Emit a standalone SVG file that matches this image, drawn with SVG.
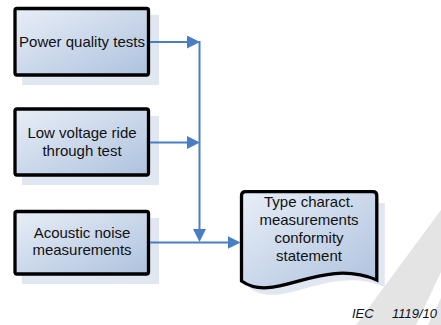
<svg xmlns="http://www.w3.org/2000/svg" width="441" height="325" viewBox="0 0 441 325">
  <style>
    .box { fill: url(#fillGrad); stroke: #000; stroke-width: 3.3; }
    .shadow { fill: #e1e7f1; stroke: none; }
    .lbl { font-family: "Liberation Sans", Arial, sans-serif; font-size: 15px; fill: #111; text-anchor: middle; }
    .conn { fill: none; stroke: #4a7ec4; stroke-width: 2; }
    .wm { fill: #e4e4e4; stroke: none; }
    .tag { font-family: "Liberation Sans", Arial, sans-serif; font-size: 13px; font-style: italic; fill: #111; }
  </style>
  <defs>
    <linearGradient id="fillGrad" x1="0" y1="0" x2="1" y2="1">
      <stop offset="0" stop-color="#e8eef7"/>
      <stop offset="1" stop-color="#aec2de"/>
    </linearGradient>
    <marker id="arrow" viewBox="0 0 13 13" refX="10" refY="6.5" markerWidth="13" markerHeight="13" markerUnits="userSpaceOnUse" orient="auto">
      <path d="M0,0 L13,6.5 L0,13 z" fill="#4a7ec4"/>
    </marker>
  </defs>
  <rect width="441" height="325" fill="#fff"/>

  <g id="watermark">
    <polygon class="wm" points="356,325 441,210 441,272 416,325"/>
    <polygon class="wm" points="428,325 441,298 441,325"/>
  </g>

  <g id="node-power">
    <rect class="shadow" x="22" y="15" width="137" height="70"/>
    <rect class="box" x="15" y="8.5" width="133.5" height="66.5" rx="2"/>
    <text class="lbl" x="82" y="46.5">Power quality tests</text>
  </g>

  <g id="node-lvrt">
    <rect class="shadow" x="22" y="116" width="137" height="69"/>
    <rect class="box" x="15" y="109" width="133.5" height="66" rx="2"/>
    <text class="lbl" x="82" y="138">Low voltage ride</text>
    <text class="lbl" x="82" y="155.5">through test</text>
  </g>

  <g id="node-acoustic">
    <rect class="shadow" x="22" y="218" width="137" height="66"/>
    <rect class="box" x="15" y="211.5" width="133.5" height="62.5" rx="2"/>
    <text class="lbl" x="82" y="237.5">Acoustic noise</text>
    <text class="lbl" x="82" y="255">measurements</text>
  </g>

  <g id="node-doc">
    <path class="shadow" d="M249.5,288 V203 H384.8 V287 C328,263 283,312 249.5,288 Z"/>
    <path class="box" d="M241.5,281 V196 Q241.5,191.7 245.5,191.7 H372.8 Q376.8,191.7 376.8,195.7 V280 C320,256 275,305 241.5,281 Z"/>
    <text class="lbl" x="309" y="207">Type charact.</text>
    <text class="lbl" x="309" y="225">measurements</text>
    <text class="lbl" x="309" y="243">conformity</text>
    <text class="lbl" x="309" y="261">statement</text>
  </g>

  <g id="connectors">
    <path class="conn" d="M150,42 H197" marker-end="url(#arrow)"/>
    <path class="conn" d="M150,142.5 H197" marker-end="url(#arrow)"/>
    <path class="conn" d="M199.5,41 V239" marker-end="url(#arrow)"/>
    <path class="conn" d="M150,242.5 H237.5" marker-end="url(#arrow)"/>
  </g>

  <text class="tag" x="352" y="318">IEC<tspan x="392">1119/10</tspan></text>
</svg>
